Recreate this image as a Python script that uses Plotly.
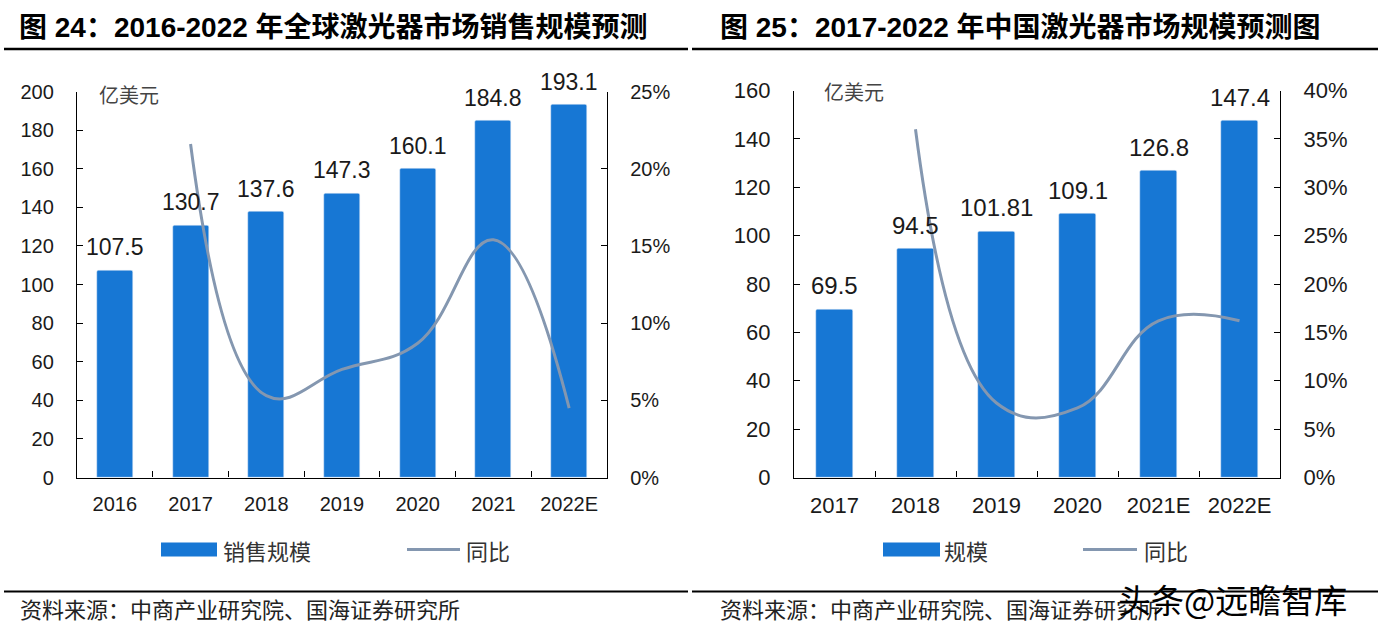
import plotly.graph_objects as go

W, H = 1383, 635

# ---- data: left chart (global) ----
g_years = ["2016", "2017", "2018", "2019", "2020", "2021", "2022E"]
g_sales = [107.5, 130.7, 137.6, 147.3, 160.1, 184.8, 193.1]
g_yoy_years = ["2017", "2018", "2019", "2020", "2021", "2022E"]
g_yoy = [0.216, 0.053, 0.070, 0.087, 0.154, 0.045]
g_labels = ["107.5", "130.7", "137.6", "147.3", "160.1", "184.8", "193.1"]

# ---- data: right chart (China) ----
c_years = ["2017", "2018", "2019", "2020", "2021E", "2022E"]
c_size = [69.5, 94.5, 101.81, 109.1, 126.8, 147.4]
c_yoy_years = ["2018", "2019", "2020", "2021E", "2022E"]
c_yoy = [0.360, 0.077, 0.072, 0.162, 0.162]
c_labels = ["69.5", "94.5", "101.81", "109.1", "126.8", "147.4"]

BAR = "#1777D4"
LINE = "#8497B0"
FONT = "Liberation Sans, Arial, Noto Sans CJK SC"
CJK = "Noto Sans CJK SC"
TXT = "#1a1a1a"

# observed vertical offset of the drawing area in the rendered page
T_OFF, B_OFF = 11.5, 13.5


def px(x):
    return x / W


def py(y):
    return 1 - (y - T_OFF) / (H - T_OFF - B_OFF)


fig = go.Figure()

fig.add_trace(go.Bar(x=g_years, y=g_sales, marker=dict(color=BAR, cornerradius=2),
                     width=0.475, xaxis="x", yaxis="y", showlegend=False))
fig.add_trace(go.Scatter(x=g_yoy_years, y=g_yoy, mode="lines",
                         line=dict(color=LINE, width=3, shape="spline", smoothing=1.2),
                         xaxis="x", yaxis="y2", showlegend=False))
fig.add_trace(go.Bar(x=c_years, y=c_size, marker=dict(color=BAR, cornerradius=2),
                     width=0.445, xaxis="x3", yaxis="y3", showlegend=False))
fig.add_trace(go.Scatter(x=c_yoy_years, y=c_yoy, mode="lines",
                         line=dict(color=LINE, width=3, shape="spline", smoothing=1.2),
                         xaxis="x3", yaxis="y4", showlegend=False))

common_x = dict(type="category", showline=True, linecolor="black", linewidth=1.3,
                ticks="inside", tickson="boundaries", ticklen=6, tickcolor="black",
                showgrid=False, zeroline=False, ticklabelstandoff=8, tickangle=0)
common_y = dict(showline=True, linecolor="black", linewidth=1.3, ticks="inside",
                ticklen=6, tickcolor="black", showgrid=False, zeroline=False,
                ticklabelstandoff=18)

fig.update_layout(
    width=W, height=H, margin=dict(l=0, r=0, t=0, b=0),
    paper_bgcolor="white", plot_bgcolor="white", bargap=0,
    xaxis=dict(domain=[px(77), px(607)], anchor="y", range=[-0.5, len(g_years) - 0.5],
               categoryorder="array", categoryarray=g_years,
               tickfont=dict(family=FONT, size=20, color=TXT), **common_x),
    yaxis=dict(domain=[py(477), py(91)], anchor="x", range=[0, 200], dtick=20,
               tickfont=dict(family=FONT, size=20, color=TXT), **common_y),
    yaxis2=dict(overlaying="y", side="right", anchor="x", range=[0, 0.25], dtick=0.05,
                tickformat=".0%", tickfont=dict(family=FONT, size=20, color=TXT), **common_y),
    xaxis3=dict(domain=[px(794), px(1280)], anchor="y3", range=[-0.5, len(c_years) - 0.5],
                categoryorder="array", categoryarray=c_years,
                tickfont=dict(family=FONT, size=22, color=TXT), **common_x),
    yaxis3=dict(domain=[py(477), py(90)], anchor="x3", range=[0, 160], dtick=20,
                tickfont=dict(family=FONT, size=22, color=TXT), **common_y),
    yaxis4=dict(overlaying="y3", side="right", anchor="x3", range=[0, 0.40], dtick=0.05,
                tickformat=".0%", tickfont=dict(family=FONT, size=22, color=TXT), **common_y),
)

ann = []
# bar value labels (category index positions)
for i, (v, t) in enumerate(zip(g_sales, g_labels)):
    ann.append(dict(x=i, y=v, xref="x", yref="y", text=t, showarrow=False,
                    yanchor="bottom", yshift=8, font=dict(family=FONT, size=23, color=TXT)))
for i, (v, t) in enumerate(zip(c_size, c_labels)):
    ann.append(dict(x=i, y=v, xref="x3", yref="y3", text=t, showarrow=False,
                    yanchor="bottom", yshift=8, font=dict(family=FONT, size=24, color=TXT)))


def note(x, y, text, size, color=TXT, family=FONT, anchor="left"):
    ann.append(dict(x=px(x), y=py(y), xref="paper", yref="paper", text=text,
                    showarrow=False, xanchor=anchor, yanchor="middle",
                    font=dict(family=family, size=size, color=color)))


# titles
note(17, 27, "<b>图 24：2016-2022 年全球激光器市场销售规模预测</b>", 28, "black")
note(718, 27, "<b>图 25：2017-2022 年中国激光器市场规模预测图</b>", 28, "black")
# units
note(97, 94, "亿美元", 20, "#444444", CJK)
note(822, 91, "亿美元", 20, "#444444", CJK)
# legends
note(221, 549, "销售规模", 22, "#333333", CJK)
note(464, 549, "同比", 22, "#333333", CJK)
note(942, 549, "规模", 22, "#333333", CJK)
note(1142, 549, "同比", 22, "#333333", CJK)
# sources
note(18, 607, "资料来源：中商产业研究院、国海证券研究所", 22, "#222222", CJK)
note(718, 607, "资料来源：中商产业研究院、国海证券研究所", 22, "#222222", CJK)
# watermark
note(1116, 598, "头条@远瞻智库", 33, "black", CJK)

fig.update_layout(annotations=ann)

shapes = []


def hline(x0, x1, y, w, color="black"):
    shapes.append(dict(type="line", xref="paper", yref="paper", x0=px(x0), x1=px(x1),
                       y0=py(y), y1=py(y), line=dict(color=color, width=w)))


hline(4, 688, 48.5, 2.5)
hline(692, 1378, 48.5, 2.5)
hline(4, 688, 591, 2.2)
hline(692, 1378, 591, 2.2)
# legend swatches
for x0, x1 in [(161, 217), (883, 940)]:
    shapes.append(dict(type="rect", xref="paper", yref="paper", x0=px(x0), x1=px(x1),
                       y0=py(556), y1=py(542), fillcolor=BAR, line=dict(width=0)))
hline(407, 460, 549, 3, LINE)
hline(1083, 1137, 549, 3, LINE)

fig.update_layout(shapes=shapes)

post = (
    "var h=document.documentElement,b=document.body;"
    "h.style.margin='0';h.style.padding='0';h.style.overflow='hidden';"
    "b.style.margin='0';b.style.padding='0';b.style.overflow='hidden';"
    "var g=document.getElementById('{plot_id}');"
    "g.style.position='fixed';g.style.top='0px';g.style.left='0px';"
)
fig.write_html("out.html", post_script=post, config={"displayModeBar": False})
